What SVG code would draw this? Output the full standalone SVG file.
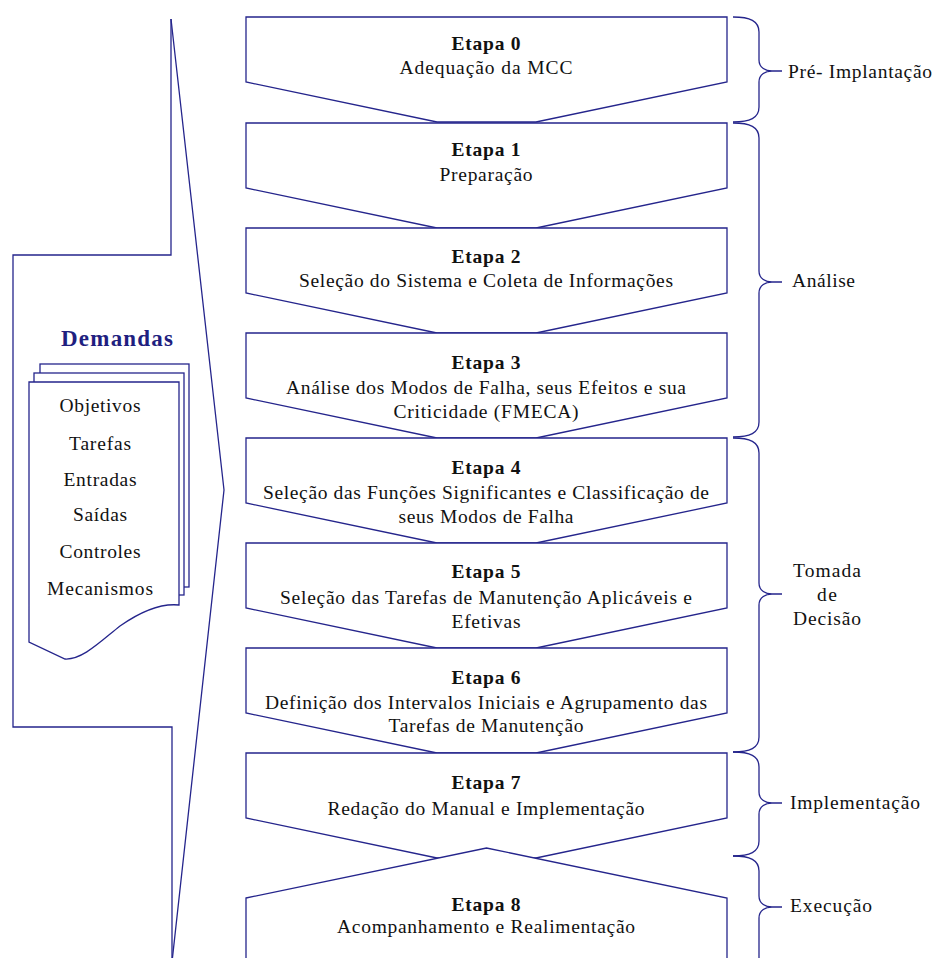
<svg xmlns="http://www.w3.org/2000/svg" width="936" height="958" viewBox="0 0 936 958">
<style>
.ln{fill:none;stroke:#25258c;stroke-width:1.3;stroke-linejoin:miter}
.box{fill:#fff;stroke:#25258c;stroke-width:1.3}
.t{font-family:"Liberation Serif","Times New Roman",serif;font-size:19.5px;fill:#111;text-anchor:middle}
.b{font-family:"Liberation Serif","Times New Roman",serif;font-size:19.5px;font-weight:bold;fill:#111;text-anchor:middle}
.dm{font-family:"Liberation Serif","Times New Roman",serif;font-size:23px;font-weight:bold;fill:#1f1f80;text-anchor:middle}
</style>
<rect width="936" height="958" fill="#fff"/>
<g id="frame">
<path class="ln" d="M171,19 V255 H13 V727 H172 V962"/>
<path class="ln" d="M171,19 L224,490 L172,962"/>
</g>
<g id="demandas">
<text class="dm" x="117" y="346" textLength="112" lengthAdjust="spacing">Demandas</text>
<rect class="box" x="40" y="364" width="149" height="223"/>
<rect class="box" x="34" y="373" width="150" height="222"/>
<path class="box" d="M29,382 H179 V605 C160,603 140,612 120,626 C100,642 82,660 65,659 L29,642 Z"/>
<text class="t" x="100" y="412" textLength="81" lengthAdjust="spacing">Objetivos</text>
<text class="t" x="100" y="449.5" textLength="62" lengthAdjust="spacing">Tarefas</text>
<text class="t" x="100" y="485.5" textLength="73" lengthAdjust="spacing">Entradas</text>
<text class="t" x="100" y="520.5" textLength="54" lengthAdjust="spacing">Saídas</text>
<text class="t" x="100" y="558" textLength="81" lengthAdjust="spacing">Controles</text>
<text class="t" x="100" y="594.5" textLength="106" lengthAdjust="spacing">Mecanismos</text>
</g>
<g id="etapa0">
<polygon class="box" points="246,17 727,17 727,82 536,122 437,122 246,82"/>
<text class="b" x="486" y="49.5" textLength="69" lengthAdjust="spacing">Etapa 0</text>
<text class="t" x="486" y="74" textLength="173" lengthAdjust="spacing">Adequação da MCC</text>
</g>
<g id="etapa1">
<polygon class="box" points="246,123 727,123 727,188 536,228 437,228 246,188"/>
<text class="b" x="486" y="156" textLength="69" lengthAdjust="spacing">Etapa 1</text>
<text class="t" x="486" y="180.5" textLength="93" lengthAdjust="spacing">Preparação</text>
</g>
<g id="etapa2">
<polygon class="box" points="246,228 727,228 727,293 536,333 437,333 246,293"/>
<text class="b" x="486" y="262.5" textLength="69" lengthAdjust="spacing">Etapa 2</text>
<text class="t" x="486" y="287" textLength="374" lengthAdjust="spacing">Seleção do Sistema e Coleta de Informações</text>
</g>
<g id="etapa3">
<polygon class="box" points="246,333 727,333 727,398 536,438 437,438 246,398"/>
<text class="b" x="486" y="368.8" textLength="69" lengthAdjust="spacing">Etapa 3</text>
<text class="t" x="486" y="394" textLength="400" lengthAdjust="spacing">Análise dos Modos de Falha, seus Efeitos e sua</text>
<text class="t" x="486" y="417.5" textLength="185" lengthAdjust="spacing">Criticidade (FMECA)</text>
</g>
<g id="etapa4">
<polygon class="box" points="246,438 727,438 727,503 536,543 437,543 246,503"/>
<text class="b" x="486" y="473.5" textLength="69" lengthAdjust="spacing">Etapa 4</text>
<text class="t" x="486" y="498.5" textLength="446" lengthAdjust="spacing">Seleção das Funções Significantes e Classificação de</text>
<text class="t" x="486" y="522.5" textLength="175" lengthAdjust="spacing">seus Modos de Falha</text>
</g>
<g id="etapa5">
<polygon class="box" points="246,543 727,543 727,608 536,648 437,648 246,608"/>
<text class="b" x="486" y="578" textLength="69" lengthAdjust="spacing">Etapa 5</text>
<text class="t" x="486" y="603.5" textLength="412" lengthAdjust="spacing">Seleção das Tarefas de Manutenção Aplicáveis e</text>
<text class="t" x="486" y="627.5" textLength="69" lengthAdjust="spacing">Efetivas</text>
</g>
<g id="etapa6">
<polygon class="box" points="246,648 727,648 727,713 536,753 437,753 246,713"/>
<text class="b" x="486" y="683.5" textLength="69" lengthAdjust="spacing">Etapa 6</text>
<text class="t" x="486" y="708.5" textLength="442" lengthAdjust="spacing">Definição dos Intervalos Iniciais e Agrupamento das</text>
<text class="t" x="486" y="731.5" textLength="195" lengthAdjust="spacing">Tarefas de Manutenção</text>
</g>
<g id="etapa7">
<polygon class="box" points="246,753 727,753 727,818 536,858 437,858 246,818"/>
<text class="b" x="486" y="788.5" textLength="69" lengthAdjust="spacing">Etapa 7</text>
<text class="t" x="486" y="814.5" textLength="317" lengthAdjust="spacing">Redação do Manual e Implementação</text>
</g>
<g id="etapa8">
<polygon class="box" points="246,898 486.5,848 727,898 727,965 246,965"/>
<text class="b" x="486" y="910.5" textLength="69" lengthAdjust="spacing">Etapa 8</text>
<text class="t" x="486" y="933" textLength="298" lengthAdjust="spacing">Acompanhamento e Realimentação</text>
</g>
<g id="braces">
<g id="fase-pre">
<path class="ln" d="M733,17 C750,17 759,21 759,32 V60 C759,68 766,71 772,71 H782 M772,71 C766,71 759,74 759,82 V107 C759,118 750,122 733,122"/>
<text class="t" x="860" y="78" textLength="144" lengthAdjust="spacing">Pré- Implantação</text>
</g>
<g id="fase-analise">
<path class="ln" d="M733,123 C750,123 759,127 759,138 V271 C759,279 766,282 772,282 H782 M772,282 C766,282 759,285 759,293 V422 C759,433 750,437 733,437"/>
<text class="t" x="823.5" y="287" textLength="63" lengthAdjust="spacing">Análise</text>
</g>
<g id="fase-decisao">
<path class="ln" d="M733,438 C750,438 759,442 759,453 V583 C759,591 766,594 772,594 H782 M772,594 C766,594 759,597 759,605 V737 C759,748 750,752 733,752"/>
<text class="t" x="827" y="576.5" textLength="68" lengthAdjust="spacing">Tomada</text>
<text class="t" x="827" y="601" textLength="20" lengthAdjust="spacing">de</text>
<text class="t" x="827" y="624.5" textLength="68" lengthAdjust="spacing">Decisão</text>
</g>
<g id="fase-implementacao">
<path class="ln" d="M733,752 C750,752 759,756 759,767 V792 C759,800 766,803 772,803 H782 M772,803 C766,803 759,806 759,814 V841 C759,852 750,856 733,856"/>
<text class="t" x="855" y="808.5" textLength="130" lengthAdjust="spacing">Implementação</text>
</g>
<g id="fase-execucao">
<path class="ln" d="M733,856 C750,856 759,860 759,871 V896 C759,904 766,907 772,907 H782 M772,907 C766,907 759,910 759,918 V962"/>
<text class="t" x="831" y="911.5" textLength="82" lengthAdjust="spacing">Execução</text>
</g>
</g>
</svg>
